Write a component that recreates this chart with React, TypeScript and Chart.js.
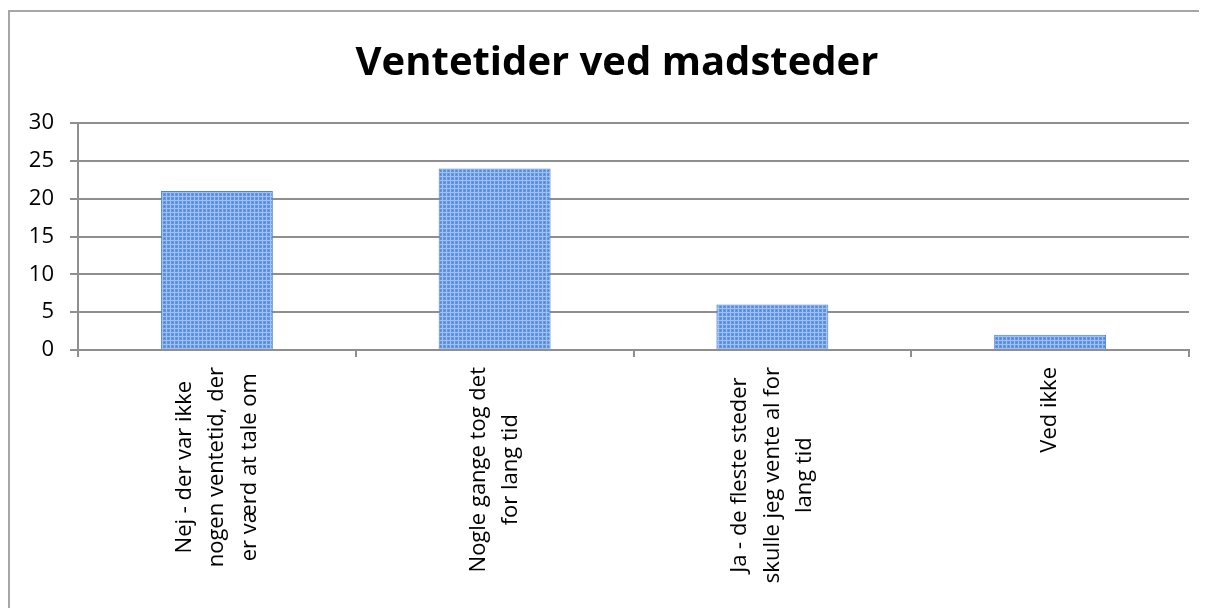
import React, { useEffect, useRef } from "react";
import { Chart, registerables } from "chart.js";

Chart.register(...registerables);

const TITLE = "Ventetider ved madsteder";
const categories: string[][] = [
  ["Nej - der var ikke", "nogen ventetid, der", "er værd at tale om"],
  ["Nogle gange tog det", "for lang tid"],
  ["Ja - de fleste steder", "skulle jeg vente al for", "lang tid"],
  ["Ved ikke"],
];
const values: number[] = [21, 24, 6, 2];
const yTicks: number[] = [0, 5, 10, 15, 20, 25, 30];

const FONT = "'Open Sans', Lato, sans-serif";
const LINE_H = 32.5;
const GRID = "#8f8f8f";

export default function App() {
  const ref = useRef<HTMLCanvasElement | null>(null);

  useEffect(() => {
    document.documentElement.style.overflow = "hidden";
    document.body.style.overflow = "hidden";
    let chart: Chart | null = null;
    let cancelled = false;

    const build = () => {
      if (cancelled || !ref.current) return;
      const tile = document.createElement("canvas");
      tile.width = 4;
      tile.height = 4;
      const t = tile.getContext("2d")!;
      t.fillStyle = "#6396e0";
      t.fillRect(0, 0, 4, 4);
      t.fillStyle = "#9fc0f0";
      t.fillRect(0, 0, 4, 1);
      t.fillRect(0, 0, 1, 4);
      t.fillStyle = "#4f82d2";
      t.fillRect(2, 2, 1, 1);
      const ctx0 = ref.current.getContext("2d")!;
      const pattern = ctx0.createPattern(tile, "repeat");

      const textPlugin = {
        id: "textPlugin",
        afterDraw(c: any) {
          const { ctx } = c;
          const x = c.scales.x;
          ctx.save();
          // title
          ctx.font = `bold 40px ${FONT}`;
          ctx.fillStyle = "#000";
          ctx.textAlign = "center";
          ctx.textBaseline = "alphabetic";
          ctx.fillText(TITLE, c.width / 2 + 8.5, 63);
          // category labels
          ctx.font = `22px ${FONT}`;
          ctx.textAlign = "center";
          ctx.textBaseline = "middle";
          categories.forEach((lines, i) => {
            const cx = x.getPixelForTick(i);
            const maxW = Math.max(...lines.map((l) => ctx.measureText(l).width));
            const top = x.top + 17;
            ctx.save();
            ctx.translate(cx, top + maxW / 2);
            ctx.rotate(-Math.PI / 2);
            lines.forEach((l, j) => {
              ctx.fillText(l, 0, (j - (lines.length - 1) / 2) * LINE_H);
            });
            ctx.restore();
          });
          ctx.restore();
        },
      };

      chart = new Chart(ref.current, {
        type: "bar",
        data: {
          labels: categories.map((c) => c.join(" ")),
          datasets: [
            {
              data: values,
              backgroundColor: pattern as any,
              borderColor: "#4f84d2",
              borderWidth: 1,
              categoryPercentage: 1,
              barPercentage: 0.403,
            },
          ],
        },
        options: {
          animation: false,
          responsive: false,
          maintainAspectRatio: false,
          layout: { padding: { left: 0, right: 18, top: 111, bottom: 0 } },
          plugins: {
            legend: { display: false },
            tooltip: { enabled: false },
            title: { display: false },
          },
          scales: {
            x: {
              afterFit(scale: any) {
                scale.height = 258;
              },
              ticks: { display: false },
              grid: {
                offset: true,
                drawOnChartArea: false,
                drawTicks: true,
                tickLength: 7,
                color: GRID,
                lineWidth: 2,
              },
              border: { display: true, color: GRID, width: 2 },
            },
            y: {
              min: 0,
              max: 30,
              afterFit(scale: any) {
                scale.width = 68;
              },
              afterBuildTicks(scale: any) {
                scale.ticks = yTicks.map((v) => ({ value: v }));
              },
              ticks: {
                color: "#000",
                padding: 16,
                font: { family: FONT, size: 22 },
              },
              grid: {
                color: GRID,
                lineWidth: 2,
                drawTicks: true,
                tickLength: 8,
              },
              border: { display: true, color: GRID, width: 2 },
            },
          },
        },
        plugins: [textPlugin],
      });
    };

    const fontsApi = (document as any).fonts;
    if (fontsApi && fontsApi.load) {
      Promise.all([
        fontsApi.load(`22px 'Open Sans'`),
        fontsApi.load(`bold 40px 'Open Sans'`),
      ])
        .catch(() => null)
        .then(build);
    } else {
      build();
    }

    return () => {
      cancelled = true;
      if (chart) chart.destroy();
    };
  }, []);

  return (
    <div
      style={{
        marginTop: 2,
        width: 1197,
        height: 596,
        borderTop: "2px solid #a6a6a6",
        borderLeft: "2px solid #a6a6a6",
        background: "#fff",
      }}
    >
      <canvas ref={ref} width={1197} height={596} style={{ display: "block" }} />
    </div>
  );
}
